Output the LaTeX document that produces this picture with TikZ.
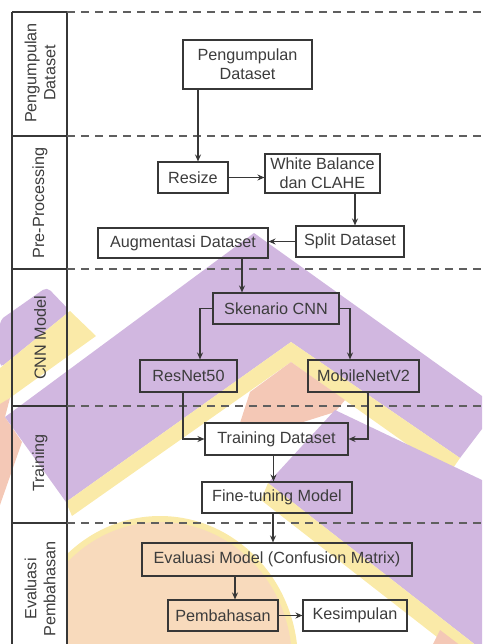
\documentclass[tikz,border=0pt]{standalone}
\usepackage{fontspec}
\setmainfont{Liberation Sans}
\usetikzlibrary{arrows.meta}
\definecolor{ln}{RGB}{55,55,55}
\definecolor{txt}{RGB}{60,60,60}
\definecolor{dashc}{RGB}{95,95,95}
\definecolor{wmpurple}{RGB}{209,183,224}
\definecolor{wmyellow}{RGB}{250,234,168}
\definecolor{wmpeach}{RGB}{248,218,188}
\definecolor{wmsalmon}{RGB}{244,200,182}
\tikzset{
  box/.style={draw=ln, line width=1.1pt, inner sep=0pt, align=center, text=txt},
  lanelabel/.style={rotate=90, align=center, text=txt, inner sep=0pt},
  conn/.style={draw=ln, line width=1.1pt, -{Stealth[length=7pt,width=6pt]}},
  lanesolid/.style={draw=ln, line width=1.1pt},
  lanedash/.style={draw=dashc, line width=1.1pt, dash pattern=on 8pt off 6pt},
}
\begin{document}
\begin{tikzpicture}[x=1pt,y=-1pt,font=\fontsize{16.2}{19}\selectfont]
\useasboundingbox (0,0) rectangle (482,644);
% ---------- watermark ----------
\begin{scope}
\clip (0,0) rectangle (482,644);
% peach blob
\begin{scope}
\clip (67,0) rectangle (482,644);
\fill[wmyellow] (160,662) ellipse [x radius=138, y radius=146];
\fill[wmpeach] (160,662) ellipse [x radius=132, y radius=140];
\end{scope}
% left stripe
\fill[wmpurple, rounded corners=5pt] (0,320) -- (47,287) -- (70,311) -- (0,368) -- cycle;
\fill[wmyellow] (70,311) -- (96,336) -- (0,405) -- (0,368) -- cycle;
\fill[wmsalmon] (0,404) -- (10,398) -- (5,417) -- (22,442) -- (0,505) -- cycle;
% main chevron
\fill[wmpurple] (5,417) -- (254,233) -- (482,396) -- (482,429) -- (460,458) -- (291,342) -- (66,502) -- cycle;
\fill[wmyellow] (66,502) -- (291,342) -- (460,458) -- (449,474) -- (291,362) -- (72,516) -- cycle;
\fill[wmsalmon] (291,362) -- (345,400) -- (335,412) -- (300,423) -- (240,423) -- (250,392) -- cycle;
% second band
\fill[wmpurple] (335,410) -- (482,480) -- (482,650) -- (268,483) -- cycle;
\fill[wmyellow] (268,483) -- (482,650) -- (482,672) -- (261,500) -- cycle;
\fill[wmsalmon] (425,660) -- (440,630) -- (482,662) -- (482,680) -- cycle;
\end{scope}
% ---------- lanes ----------
\draw[lanesolid] (12,12) -- (12,644);
\draw[lanesolid] (67,12) -- (67,644);
\foreach \yy in {12,136,269,406,523} {
  \draw[lanesolid] (12,\yy) -- (67,\yy);
  \draw[lanedash] (67,\yy) -- (482,\yy);
}
\node[lanelabel] (l1) at (40,73) {Pengumpulan\\Dataset};
\node[lanelabel] (l2) at (40,203) {Pre-Processing};
\node[lanelabel] (l3) at (40,338) {CNN Model};
\node[lanelabel] (l4) at (40,463) {Training};
\node[lanelabel] (l5) at (40,589) {Evaluasi\\Pembahasan};
% ---------- nodes ----------
\node[box, minimum width=129pt, minimum height=49pt] (peng) at (247.5,64.5) {Pengumpulan\\Dataset};
\node[box, minimum width=70pt, minimum height=31pt] (resize) at (193,177.5) {Resize};
\node[box, minimum width=115pt, minimum height=39pt] (wb) at (322.5,173.5) {White Balance\\dan CLAHE};
\node[box, minimum width=108pt, minimum height=31pt] (split) at (350,241.5) {Split Dataset};
\node[box, minimum width=170pt, minimum height=30pt] (aug) at (183,243) {Augmentasi Dataset};
\node[box, minimum width=126pt, minimum height=31pt] (sk) at (276,308.5) {Skenario CNN};
\node[box, minimum width=97pt, minimum height=32pt] (res) at (188.5,376) {ResNet50};
\node[box, minimum width=111pt, minimum height=32pt] (mob) at (363.5,376) {MobileNetV2};
\node[box, minimum width=143pt, minimum height=32pt] (train) at (276.5,439) {Training Dataset};
\node[box, minimum width=150pt, minimum height=31pt] (fine) at (277,497.5) {Fine-tuning Model};
\node[box, minimum width=270pt, minimum height=33pt] (eval) at (277,559.5) {Evaluasi Model (Confusion Matrix)};
\node[box, minimum width=110pt, minimum height=31pt] (pemb) at (223,615.5) {Pembahasan};
\node[box, minimum width=104pt, minimum height=31pt] (kes) at (355,615.5) {Kesimpulan};
% ---------- connectors ----------
\draw[conn] ([xshift=5pt]resize.north |- peng.south) -- ([xshift=5pt]resize.north);
\draw[conn] (resize.east) -- (resize.east -| wb.west);
\draw[conn] ([xshift=5pt]split.north |- wb.south) -- ([xshift=5pt]split.north);
\draw[conn] (split.west) -- (split.west -| aug.east);
\draw[conn] ([xshift=-34pt]sk.north |- aug.south) -- ([xshift=-34pt]sk.north);
\draw[conn] (sk.west) -| ([xshift=11.5pt]res.north);
\draw[conn] (sk.east) -| ([xshift=-13.5pt]mob.north);
\draw[conn] ([xshift=-5.5pt]res.south) |- (train.west);
\draw[conn] ([xshift=4.5pt]mob.south) |- (train.east);
\draw[conn] ([xshift=-3pt]train.south) -- ([xshift=-3pt]train.south |- fine.north);
\draw[conn] ([xshift=-4pt]fine.south) -- ([xshift=-4pt]fine.south |- eval.north);
\draw[conn] ([xshift=12pt]pemb.north |- eval.south) -- ([xshift=12pt]pemb.north);
\draw[conn] (pemb.east) -- (kes.west);
\end{tikzpicture}
\end{document}
